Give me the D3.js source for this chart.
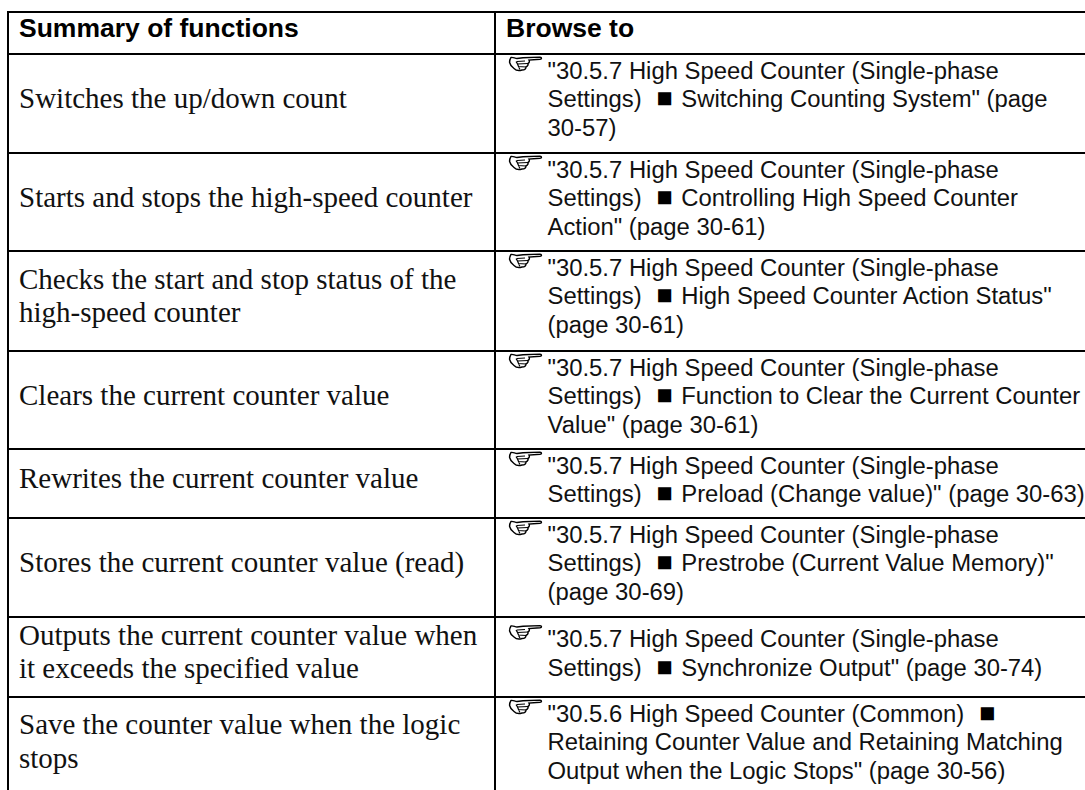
<!DOCTYPE html>
<html>
<head>
<meta charset="utf-8">
<script src="https://cdn.jsdelivr.net/npm/d3@7"></script>
<style>
html,body{margin:0;padding:0;background:#fff;overflow:hidden}
svg{display:block}
text{white-space:pre}
</style>
</head>
<body>
<div id="chart"></div>
<script>
const headers=["Summary of functions","Browse to"];

const functions=[
	["Switches the up/down count"],
	["Starts and stops the high-speed counter"],
	["Checks the start and stop status of the","high-speed counter"],
	["Clears the current counter value"],
	["Rewrites the current counter value"],
	["Stores the current counter value (read)"],
	["Outputs the current counter value when","it exceeds the specified value"],
	["Save the counter value when the logic","stops"]
];

const links=[
	['"30.5.7 High Speed Counter (Single-phase','Settings)  ■ Switching Counting System" (page','30-57)'],
	['"30.5.7 High Speed Counter (Single-phase','Settings)  ■ Controlling High Speed Counter','Action" (page 30-61)'],
	['"30.5.7 High Speed Counter (Single-phase','Settings)  ■ High Speed Counter Action Status"','(page 30-61)'],
	['"30.5.7 High Speed Counter (Single-phase','Settings)  ■ Function to Clear the Current Counter','Value" (page 30-61)'],
	['"30.5.7 High Speed Counter (Single-phase','Settings)  ■ Preload (Change value)" (page 30-63)'],
	['"30.5.7 High Speed Counter (Single-phase','Settings)  ■ Prestrobe (Current Value Memory)"','(page 30-69)'],
	['"30.5.7 High Speed Counter (Single-phase','Settings)  ■ Synchronize Output" (page 30-74)'],
	['"30.5.6 High Speed Counter (Common)  ■','Retaining Counter Value and Retaining Matching','Output when the Logic Stops" (page 30-56)']
];

const width=1085,height=790;

// last edge falls below the page, the table is cut off there
const rowEdges=[12,54,153,251,351,449,518,617,697,796];
const colX=[8,495];
const linkH=28.8,fnH=33.5;

const handOutline="M2,1 C4,0.5 6,2 8,2 L14,1.2 L31,0.6 C33,0.8 33,2.6 31,2.8 L20,3.6 C21,5 20,6.5 19,7 C19.5,9 18,10 17,10.5 C17,12.5 15,13.5 13,13.5 C10,14.5 7,14 5,12 C3,10.5 1,8 0.6,6 C0.4,4 1,2.5 2,1 Z";
const handInner="M8,5 L16,4.5 M8,7.5 L19,7 M9,10 L17,10.5 M7,5 C9,7 9,10 11,13";

const svg=d3.select("#chart").append("svg")
		.attr("width",width)
		.attr("height",height);

svg.selectAll("line.h")
	.data(rowEdges.slice(0,-1))
	.join("line")
		.attr("class","h")
		.attr("x1",colX[0]-1)
		.attr("x2",width)
		.attr("y1",d=>d)
		.attr("y2",d=>d)
		.attr("stroke","#000")
		.attr("stroke-width",2);

svg.selectAll("line.v")
	.data(colX)
	.join("line")
		.attr("class","v")
		.attr("x1",d=>d)
		.attr("x2",d=>d)
		.attr("y1",rowEdges[0])
		.attr("y2",height)
		.attr("stroke","#000")
		.attr("stroke-width",2);

svg.selectAll("text.head")
	.data(headers)
	.join("text")
		.attr("class","head")
		.attr("x",(d,i)=>colX[i]+11)
		.attr("y",37)
		.attr("font-family","Liberation Sans")
		.attr("font-weight","bold")
		.attr("font-size",26.5)
		.text(d=>d);

let rows=svg.selectAll("g.row")
	.data(functions)
	.join("g")
		.attr("class","row")
		.attr("transform",(d,i)=>`translate(0,${rowEdges[i+1]})`);

rows.each(function(d,i) {
	let g=d3.select(this),
		h=rowEdges[i+2]-rowEdges[i+1],
		top=h/2-(d.length-1)*fnH/2+4.5,
		// the 80px row sits lower than the others in the source
		linkTop=h==80 ? 30 : 24.5;

	g.selectAll("text.fn")
		.data(d)
		.join("text")
			.attr("class","fn")
			.attr("x",colX[0]+11)
			.attr("y",(t,j)=>top+j*fnH)
			.attr("font-family","Liberation Serif")
			.attr("font-size",29)
			.attr("fill","#111")
			.text(t=>t);

	let hand=g.append("g")
		.attr("transform",`translate(509,${linkTop-22})`);

	hand.append("path")
		.attr("d",handOutline)
		.attr("fill","#fff")
		.attr("stroke","#000")
		.attr("stroke-width",1.4);

	hand.append("path")
		.attr("d",handInner)
		.attr("fill","none")
		.attr("stroke","#000")
		.attr("stroke-width",1.2);

	let lines=g.selectAll("text.link")
		.data(links[i])
		.join("text")
			.attr("class","link")
			.attr("x",547.5)
			.attr("y",(t,j)=>linkTop+j*linkH)
			.attr("font-family","Liberation Sans")
			.attr("font-size",23.85)
			.attr("fill","#111");

	// the square bullet is set larger than the text around it
	lines.each(function(t) {
		let parts=t.split("■"),
			line=d3.select(this);

		line.append("tspan").text(parts[0]);

		if(parts.length>1) {
			line.append("tspan")
				.attr("dx",1.5)
				.attr("font-size",27)
				.attr("fill","#000")
				.text("■");
			line.append("tspan")
				.attr("dx",2)
				.text(parts[1]);
		}
	});
});
</script>
</body>
</html>
